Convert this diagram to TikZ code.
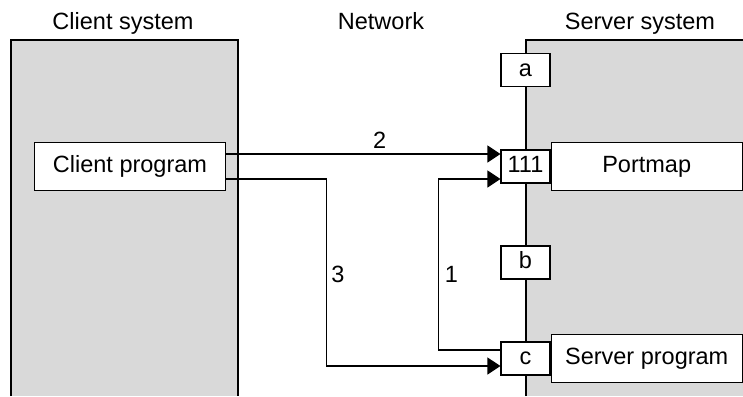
\documentclass[tikz,border=0pt]{standalone}
\usepackage{fontspec}
\setmainfont{Liberation Sans}
\usetikzlibrary{arrows.meta}
\usetikzlibrary{positioning}
\definecolor{panelgray}{RGB}{217,217,217}
\tikzset{portbox/.style = {draw, fill=white, line width=1.2pt, inner sep=0pt,
                           minimum width=49pt, minimum height=33pt,
                           text height=17pt, text depth=5pt},
         progbox/.style = {portbox, minimum width=191pt, minimum height=48.5pt},
         flow/.style = {line width=1.2pt, -{Triangle[length=13pt,width=17pt]}}}

\begin{document}
\begin{tikzpicture}[x=1pt, y=-1pt, font=\fontsize{23.5pt}{28pt}\selectfont]
        \useasboundingbox (0,0) rectangle (743,396);
        \fill[panelgray] (11,40) rectangle (238,396);
        \draw[line width=1.2pt] (11,396) -- (11,40) -- (238,40) -- (238,396);
        \fill[panelgray] (526,40) rectangle (743,396);
        \draw[line width=1.2pt] (526,396) -- (526,40) -- (743,40);
        \node[anchor=base] (clienthead) at (123,29.5) {Client system};
        \node[anchor=base] (nethead) at (381,29.5) {Network};
        \node[anchor=base] (serverhead) at (640,29.5) {Server system};
        \node[progbox] (client) at (130,166.5) {Client program};
        \node[portbox] (pa) at (525.5,70) {a};
        \node[portbox] (p111) at (525.5,166.5) {111};
        \node[portbox] (pb) at (525.5,262.5) {b};
        \node[portbox] (pc) at (525.5,358.5) {c};
        \node[progbox, right=0pt of p111] (portmap) {Portmap};
        \node[progbox, right=0pt of pc] (server) {Server program};
        \draw[flow] ([yshift=12.5pt]client.east) -- ([yshift=12.5pt]p111.west)
            node[pos=0.56, above=2pt] (lbltwo) {2};
        \draw[flow] ([yshift=-12.5pt]client.east) -- ++(100,0) |- ([yshift=-7.5pt]pc.west);
        \draw[flow] ([yshift=8.5pt]pc.west) -- ++(-62,0) |- ([yshift=-12.5pt]p111.west);
        \node[anchor=base] (lblthree) at (338,282) {3};
        \node[anchor=base] (lblone) at (451.5,282) {1};
    \end{tikzpicture}
\end{document}
